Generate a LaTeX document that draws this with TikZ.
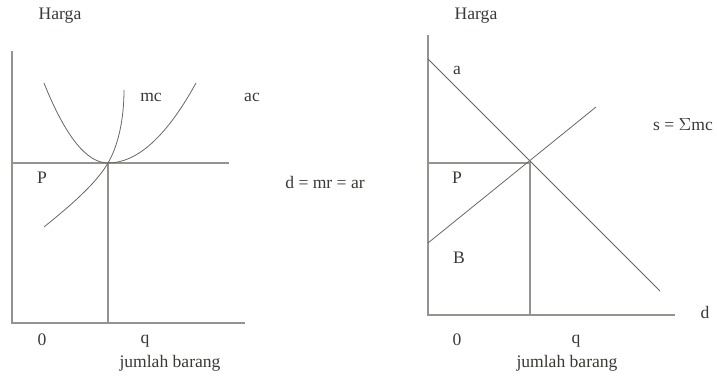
\documentclass[tikz,border=0pt]{standalone}
\usepackage{fontspec}
\setmainfont{Liberation Serif}
\usepackage{tikz}
\usetikzlibrary{positioning}
\definecolor{caxis} {RGB}{150,146,141}
\definecolor{ccurve}{RGB}{105,100,95}
\definecolor{ctext} {RGB}{60,56,52}
\tikzset{
  axis/.style={draw=caxis, line width=0.6pt},
  crv/.style={draw=ccurve, line width=0.45pt},
  lbl/.style={font=\fontsize{10}{12}\selectfont, text=ctext, inner sep=0pt},
}

\begin{document}
\begin{tikzpicture}[x=0.02cm, y=-0.02cm]
  \useasboundingbox (0,0) rectangle (717,381);

  % ── Left panel: single firm ────────────────────────────────────────────────
  \coordinate (lO)   at (12,323);
  \coordinate (lTop) at (12,51);
  \coordinate (lEnd) at (245,323);
  \coordinate (lPy)  at (12,163);
  \coordinate (lPx)  at (229,163);
  \coordinate (lE)   at (108,163);
  \coordinate (lQ)   at (108,323);

  \draw[axis] (lTop) -- (lO) -- (lEnd);
  \draw[axis] (lPy) -- (lPx);
  \draw[axis] (lE) -- (lQ);

  % ac (U shape) and mc
  \draw[crv] (44,83) .. controls (65.3,136.3) and (86.7,163) .. (lE)
             .. controls (137.3,163) and (166.7,136.3) .. (196,83);
  \draw[crv] (44,227) .. controls (80,198) and (98,180) .. (lE)
             .. controls (118,146) and (124,120) .. (124,90);

  \node[lbl] (lharga) at (60,16)  {Harga};
  \node[lbl] (lmc)    at (151,97) {mc};
  \node[lbl] (lac)    at (252,97) {ac};
  \node[lbl] (lP)     at (42,178) {P};
  \node[lbl] (ldmr)   at (325,182) {d = mr = ar};
  \node[lbl] (lzero)  at (42,340) {0};
  \node[lbl] (lq)     at (145,341) {q};
  \node[lbl] (ljml)   at (170,363) {jumlah barang};

  % ── Right panel: market ────────────────────────────────────────────────────
  \coordinate (rO)   at (428,315);
  \coordinate (rTop) at (428,35);
  \coordinate (rEnd) at (675,315);
  \coordinate (rPy)  at (428,163);
  \coordinate (rE)   at (530,163);
  \coordinate (rQ)   at (530,315);
  \coordinate (rA)   at (428,59);
  \coordinate (rD)   at (660,291);
  \coordinate (rB)   at (428,243);
  \coordinate (rS)   at (596,107);

  \draw[axis] (rTop) -- (rO) -- (rEnd);
  \draw[axis] (rPy) -- (rE) -- (rQ);
  \draw[crv] (rA) -- (rD);
  \draw[crv] (rB) -- (rS);

  \node[lbl] (rharga) at (476,16)  {Harga};
  \node[lbl] (ra)     at (457,70)  {a};
  \node[lbl] (rs)     at (683,125) {s = $\Sigma$mc};
  \node[lbl] (rP)     at (457,178) {P};
  \node[lbl] (rBl)    at (459,258) {B};
  \node[lbl] (rd)     at (705,312) {d};
  \node[lbl] (rzero)  at (457,340) {0};
  \node[lbl] (rq)     at (576,341) {q};
  \node[lbl] (rjml)   at (567,363) {jumlah barang};
\end{tikzpicture}
\end{document}
